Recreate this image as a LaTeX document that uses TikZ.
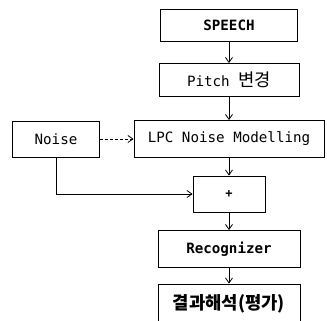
\documentclass[tikz,border=0pt]{standalone}
\usepackage{fontspec}
\setmainfont{DejaVu Sans Mono}
\newfontfamily\kr{Noto Sans CJK KR}[Scale=1.25]
\usepackage{tikz}
\usetikzlibrary{shapes.geometric, arrows.meta, positioning}
\tikzstyle{block} = [rectangle, minimum height=33pt, text centered, draw=black, line width=0.8pt, font=\fontsize{14.2}{16}\selectfont, inner sep=2pt]
\tikzstyle{arrow} = [line width=0.8pt, -{Straight Barb[length=5pt,width=7pt,line width=0.8pt]}]

\begin{document}
\begin{tikzpicture}[node distance=55pt]
    \useasboundingbox (0,0) rectangle (327pt,-321pt);
    \node (speech) [block, minimum width=137pt, minimum height=32pt] at (229pt,-25pt) {\textbf{SPEECH}};
    \node (pitch) [block, minimum width=140pt, below of=speech] {Pitch {\kr 변경}};
    \draw [arrow] (speech) -- (pitch);
    \node (lpc) [block, minimum width=190pt, minimum height=37pt, below of=pitch, yshift=-4pt] {LPC Noise Modelling};
    \draw [arrow] (pitch) -- (lpc);
    \node (noise) [block, minimum width=87pt, minimum height=36pt] at (56pt,-139pt) {Noise};
    \draw [arrow, densely dashed] (noise) -- (lpc);
    \node (plus) [block, minimum width=72pt, minimum height=36pt, below of=lpc] {\fontsize{12}{12}\selectfont\textbf{+}};
    \draw [arrow] (lpc) -- (plus);
    \draw [arrow] (noise) |- (plus);
    \node (recog) [block, minimum width=142pt, minimum height=37pt, below of=plus] {\textbf{Recognizer}};
    \draw [arrow] (plus) -- (recog);
    % bottom edge runs off the page
    \node (result) [block, minimum width=142pt, minimum height=40pt, below of=recog] {{\kr\bfseries 결과해석(평가)}};
    \draw [arrow] (recog) -- (result);
\end{tikzpicture}
\end{document}
